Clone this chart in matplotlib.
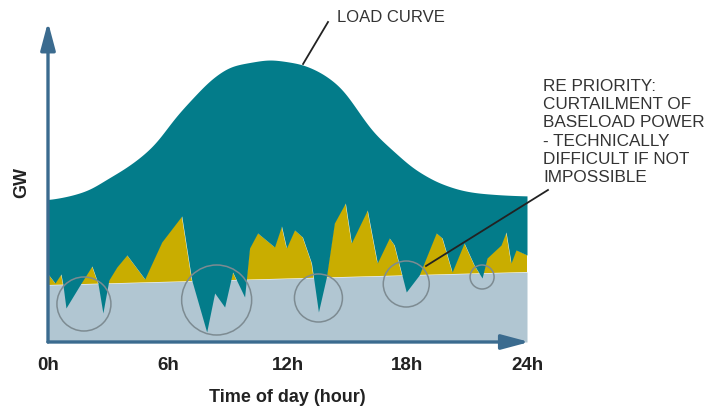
import matplotlib
matplotlib.use('Agg')
import matplotlib.pyplot as plt
from matplotlib.patches import Ellipse
import numpy as np

# load curve (hour, GW)
load_hours = [0, 1.1, 2.1, 2.95, 3.75, 4.6, 5.45, 6.25, 6.6, 8.1, 9.1, 11.1,
              12.75, 13.75, 14.75, 15.6, 16.25, 17.25, 18.25, 19.45, 20.6,
              21.45, 22.75, 24]
load_gw = [14.2, 14.6, 15.2, 16.3, 17.2, 18.4, 19.9, 22.2, 23.0, 26.2, 27.6, 28.3,
           27.8, 26.9, 25.4, 22.9, 21.0, 19.2, 17.4, 16.0, 15.2,
           14.9, 14.7, 14.6]

# baseload (straight line)
base_hours = [0, 24]
base_gw = [5.7, 7.0]

# renewable infeed + baseload (spiky curve)
re_hours = [0, 0.35, 0.65, 0.75, 0.9, 1.6, 2.2, 2.5, 2.75, 3.05, 3.45, 3.95,
            4.85, 5.7, 6.7, 7.2, 7.95, 8.35, 8.85, 9.25, 9.85, 10.1, 10.5,
            11.35, 11.7, 11.95, 12.35, 12.75, 13.2, 13.55, 13.95, 14.35, 14.9,
            15.2, 16.0, 16.5, 17.1, 17.35, 17.95, 18.6, 19.45, 19.75, 20.25,
            20.85, 21.35, 21.75, 22.0, 22.7, 22.95, 23.2, 23.45, 24]
re_gw = [6.8, 5.9, 6.8, 5.7, 3.4, 5.7, 7.6, 5.9, 2.9, 6.2, 7.5, 8.7,
         6.3, 10.0, 12.6, 6.2, 1.0, 4.9, 3.5, 7.0, 4.5, 9.4, 10.9,
         9.5, 11.6, 9.4, 11.2, 10.5, 7.9, 3.0, 6.5, 11.9, 13.9,
         9.9, 13.2, 7.9, 10.4, 9.7, 5.0, 6.7, 10.9, 10.4, 7.0,
         9.9, 7.7, 6.4, 8.4, 9.7, 11.0, 7.9, 9.2, 8.7]

# highlighted dips: centre hour, centre GW, radius in px
circle_hours = [1.8, 8.45, 13.55, 17.95, 21.75]
circle_gw = [3.8, 4.2, 4.4, 5.8, 6.5]
circle_px = [27, 35, 24, 23, 12]

teal = '#037c8a'
gold = '#c9ad00'
pale = '#b1c6d2'
axis_col = '#3b6b8f'
txt = '#333333'
bold_font = 'Liberation Sans'

W, H = 722, 412
fig = plt.figure(figsize=(W / 100, H / 100), dpi=100)
x0, x1, y0, y1 = 48, 527, 342, 22
ax = fig.add_axes([x0 / W, (H - y0) / H, (x1 - x0) / W, (y0 - y1) / H])
ax.set_xlim(0, 24)
ax.set_ylim(0, 32)
ax.axis('off')

x = np.linspace(0, 24, 2401)
load = np.interp(x, load_hours, load_gw)
# soften the corners of the load curve
k = np.exp(-0.5 * (np.arange(-120, 121) / 40.0) ** 2)
k /= k.sum()
load = np.convolve(np.pad(load, 120, mode='edge'), k, mode='valid')
base = np.interp(x, base_hours, base_gw)
re = np.interp(x, re_hours, re_gw)

ax.fill_between(x, 0, base, color=pale, lw=0)
ax.fill_between(x, base, re, where=re >= base, interpolate=True, color=gold, lw=0)
ax.fill_between(x, re, load, color=teal, lw=0)

px_hr = (x1 - x0) / 24
px_gw = (y0 - y1) / 32
for ch, cg, r in zip(circle_hours, circle_gw, circle_px):
    ax.add_patch(Ellipse((ch, cg), 2 * r / px_hr, 2 * r / px_gw, fill=False,
                         edgecolor='#7d8b92', lw=1.1))

# axes arrows
arrow = dict(arrowstyle='-|>,head_length=1.2,head_width=0.32', color=axis_col,
             lw=2.4, mutation_scale=14, shrinkA=0, shrinkB=0)
ax.annotate('', xy=(0, 1), xytext=(0, 0), xycoords='axes fraction',
            arrowprops=arrow, annotation_clip=False)
ax.annotate('', xy=(1.005, 0), xytext=(0, 0), xycoords='axes fraction',
            arrowprops=arrow, annotation_clip=False)

for h in [0, 6, 12, 18, 24]:
    ax.text(h, -2.4, f'{h}h', ha='center', va='center', fontsize=13.5,
            fontweight='bold', family=bold_font, color='#222222')
ax.text(12, -5.6, 'Time of day (hour)', ha='center', va='center', fontsize=13,
        fontweight='bold', family=bold_font, color='#222222')
ax.text(-1.3, 15.9, 'GW', rotation=90, ha='center', va='center', fontsize=13,
        fontweight='bold', family=bold_font, color='#222222')

# annotations
ax.plot([12.78, 14.03], [27.8, 32.0], color='#222222', lw=1.3, clip_on=False)
ax.text(14.5, 32.5, 'LOAD CURVE', ha='left', va='center', fontsize=12,
        family='Liberation Sans', color=txt)
ax.plot([18.94, 25.05], [7.6, 15.2], color='#222222', lw=1.3, clip_on=False)
ax.text(24.8, 26.3, 'RE PRIORITY:\nCURTAILMENT OF\nBASELOAD POWER\n- TECHNICALLY\n'
        'DIFFICULT IF NOT\nIMPOSSIBLE', ha='left', va='top', fontsize=12.3,
        family='Liberation Sans', color=txt, linespacing=1.27)

fig.savefig('out.png', dpi=100)
